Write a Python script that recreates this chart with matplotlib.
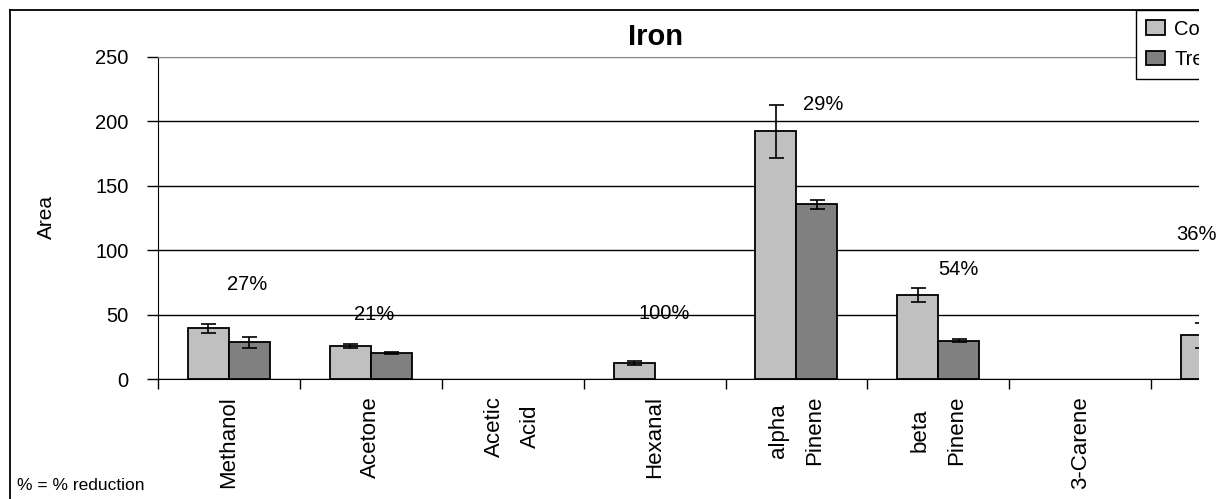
import numpy as np
import matplotlib
matplotlib.use("Agg")
import matplotlib.pyplot as plt
from matplotlib.patches import Rectangle
from matplotlib.lines import Line2D

plt.rcParams["font.family"] = ["Liberation Sans", "DejaVu Sans"]

# ---- data -------------------------------------------------------------
compounds = ["Methanol", "Acetone", "Acetic\nAcid", "Hexanal",
             "alpha\nPinene", "beta\nPinene", "3-Carene", ""]
control = [39.5, 26.0, 0.0, 12.4, 192.0, 65.2, 0.0, 34.0]
control_err = [3.3, 1.5, 0.0, 1.5, 20.5, 5.3, 0.0, 9.5]
treated = [28.8, 20.5, 0.0, 0.0, 135.5, 30.0, 0.0, 21.8]
treated_err = [4.2, 1.0, 0.0, 0.0, 3.6, 1.2, 0.0, 3.0]
reduction_pct = [27, 21, None, 100, 29, 54, None, 36]
series_names = ["Control", "Treated"]
y_ticks = [0, 50, 100, 150, 200, 250]

# where each "% reduction" note sits (data units: category index, Area)
note_xy = [(0.13, 73.8), (1.02, 50.5), None, (3.07, 51.3),
           (4.19, 213.1), (5.14, 84.8), None, (6.82, 112.5)]

# ---- figure -----------------------------------------------------------
W, H = 1229, 499
fig = plt.figure(figsize=(W / 100, H / 100), dpi=100)
fig.patch.set_facecolor("white")

def fx(px):
    return px / W

def fy(py):
    return 1 - py / H

ax_left, ax_right, ax_top, ax_bot = 158, 1293, 56.5, 379.3
ax = fig.add_axes([fx(ax_left), fy(ax_bot), fx(ax_right - ax_left),
                   (ax_bot - ax_top) / H])

x = np.arange(len(compounds))
bw = 0.289
ctrl = np.array(control)
trt = np.array(treated)

def edges(vals):
    # empty bars get no outline
    return ["black" if v > 0 else "none" for v in vals]

ax.bar(x - bw / 2, ctrl, width=bw, color="#C0C0C0", edgecolor=edges(ctrl),
       linewidth=1.3, zorder=3, label=series_names[0])
ax.bar(x + bw / 2, trt, width=bw, color="#808080", edgecolor=edges(trt),
       linewidth=1.3, zorder=3, label=series_names[1])

err_style = dict(fmt="none", ecolor="black", elinewidth=1.2, capsize=5.4,
                 capthick=1.2, zorder=4)
m = ctrl > 0
ax.errorbar((x - bw / 2)[m], ctrl[m], yerr=np.array(control_err)[m], **err_style)
m = trt > 0
ax.errorbar((x + bw / 2)[m], trt[m], yerr=np.array(treated_err)[m], **err_style)

ax.set_xlim(-0.5, len(compounds) - 0.5)
ax.set_ylim(0, 250)
ax.set_yticks(y_ticks)
ax.set_yticklabels([str(v) for v in y_ticks], fontsize=14.5)
ax.tick_params(axis="y", direction="out", length=8, width=1, pad=13,
               colors="black")

ax.set_xticks(x)
ax.set_xticklabels(compounds, rotation=90, fontsize=16, va="top",
                   ha="center", linespacing=1.95)
for lbl in ax.get_xticklabels():
    lbl.set_multialignment("center")
ax.tick_params(axis="x", which="major", length=0, pad=12)
ax.set_xticks(np.arange(len(compounds) + 1) - 0.5, minor=True)
ax.tick_params(axis="x", which="minor", direction="out", length=7, width=1)

ax.yaxis.grid(True, color="black", linewidth=1)
ax.get_ygridlines()[-1].set_color("#8c8c8c")
ax.set_axisbelow(True)

ax.spines["right"].set_visible(False)
ax.spines["top"].set_color("#8c8c8c")
ax.spines["left"].set_color("black")
ax.spines["bottom"].set_color("black")

ax.set_ylabel("Area", fontsize=15)
ax.yaxis.set_label_coords((56 - ax_left) / (ax_right - ax_left), 0.503)

leg = ax.legend(loc="upper left", bbox_to_anchor=(fx(1136), fy(9.5)),
                bbox_transform=fig.transFigure, borderaxespad=0,
                fancybox=False, framealpha=1, edgecolor="black",
                fontsize=14.5, handlelength=0.95, handleheight=0.7,
                handletextpad=0.45, borderpad=0.5, labelspacing=0.55)
leg.get_frame().set_linewidth(1)

# chart title and outer frame
fig.text(fx(655), fy(37), "Iron", fontsize=21, fontweight="bold",
         ha="center", va="center")
fig.add_artist(Line2D([fx(10), fx(10)], [0, fy(9.5)], color="black",
                      linewidth=1.3, transform=fig.transFigure))
fig.add_artist(Line2D([fx(10), fx(1199)], [fy(9.5), fy(9.5)], color="black",
                      linewidth=1.3, transform=fig.transFigure))

# the chart area stops short of the right edge of the image
fig.add_artist(Rectangle((fx(1199), 0), fx(W - 1199), 1, facecolor="white",
                         edgecolor="none", transform=fig.transFigure,
                         zorder=15))

# percentage reduction notes
for pct, pos in zip(reduction_pct, note_xy):
    if pct is None:
        continue
    fig.text(pos[0], pos[1], f"{pct}%", transform=ax.transData,
             fontsize=14.5, ha="center", va="center", zorder=20)

fig.text(fx(17), fy(485), "% = % reduction", fontsize=12.5,
         ha="left", va="center")

fig.savefig("out.png", dpi=100)
